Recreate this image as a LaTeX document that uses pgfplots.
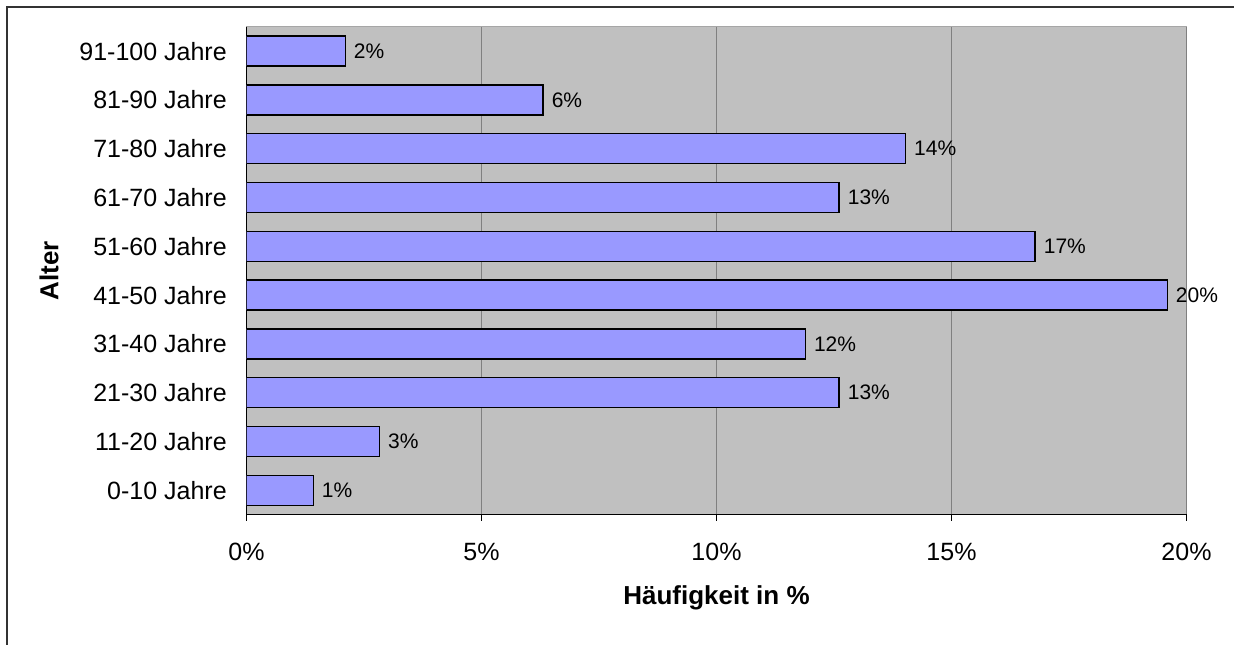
\documentclass[border=0pt]{standalone}
\usepackage{fontspec}
\setmainfont{Liberation Sans}
\usepackage{pgfplots}
\pgfplotsset{compat=1.18}
\definecolor{plotgray}{HTML}{C0C0C0}
\definecolor{barblue}{HTML}{9999FF}
\definecolor{gridgray}{HTML}{808080}
\newcommand{\chartfont}{\fontsize{12.5}{15}\selectfont}
\newcommand{\valuefont}{\fontsize{10.5}{12.6}\selectfont}
\newcommand{\titlefont}{\fontsize{13}{15.6}\selectfont\bfseries}
\begin{document}
\chartfont
\begin{tikzpicture}
\path[use as bounding box] (0,0) rectangle (617pt,322pt);
% outer frame of the chart
\draw[line width=1pt, color=black!80] (3.25pt,-1pt) -- (3.25pt,318.5pt) -- (618pt,318.5pt);
\begin{axis}[
  at={(123.25pt,64.65pt)}, anchor=south west,
  scale only axis, width=470pt, height=244pt,
  xbar, bar width=0.616,
  xmin=0, xmax=20, ymin=-0.5, ymax=9.5,
  axis x line*=bottom, axis y line*=left,
  axis line style={-, black, line width=0.7pt},
  axis background/.style={fill=plotgray, draw=gridgray!70, line width=0.6pt},
  /pgf/number format/assume math mode=true,
  xtick={0,5,10,15,20},
  xticklabel={\pgfmathprintnumber{\tick}\%},
  xmajorgrids, major grid style={gridgray, line width=0.7pt},
  tick align=outside, major tick length=3pt,
  tick style={black, line width=0.7pt},
  ytick={0,...,9},
  yticklabels={0-10 Jahre,11-20 Jahre,21-30 Jahre,31-40 Jahre,41-50 Jahre,51-60 Jahre,61-70 Jahre,71-80 Jahre,81-90 Jahre,91-100 Jahre},
  y tick style={draw=none},
  minor ytick={-0.5,0.5,...,9.5},
  minor tick length=3pt,
  minor y tick style={black, line width=0.7pt},
  yticklabel style={font=\chartfont, xshift=-2.5pt},
  xticklabel style={font=\chartfont, yshift=-7pt},
  xlabel={Häufigkeit in \%},
  ylabel={Alter},
  every axis x label/.style={at={(axis description cs:0.5,0)}, anchor=center, yshift=-41.7pt, font=\titlefont},
  every axis y label/.style={at={(axis description cs:0,0.5)}, xshift=-98.75pt, anchor=center, rotate=90, font=\titlefont},
  nodes near coords={\pgfmathprintnumber[fixed,precision=0]{\pgfplotspointmeta}\%},
  point meta=x,
  every node near coord/.append style={font=\valuefont, anchor=west, inner sep=4pt},
]
\addplot[fill=barblue, draw=black, line width=0.7pt] coordinates {
  (1.42,0) (2.83,1) (12.61,2) (11.89,3) (19.59,4)
  (16.78,5) (12.61,6) (14.02,7) (6.31,8) (2.10,9)
};
\end{axis}
\end{tikzpicture}
\end{document}
